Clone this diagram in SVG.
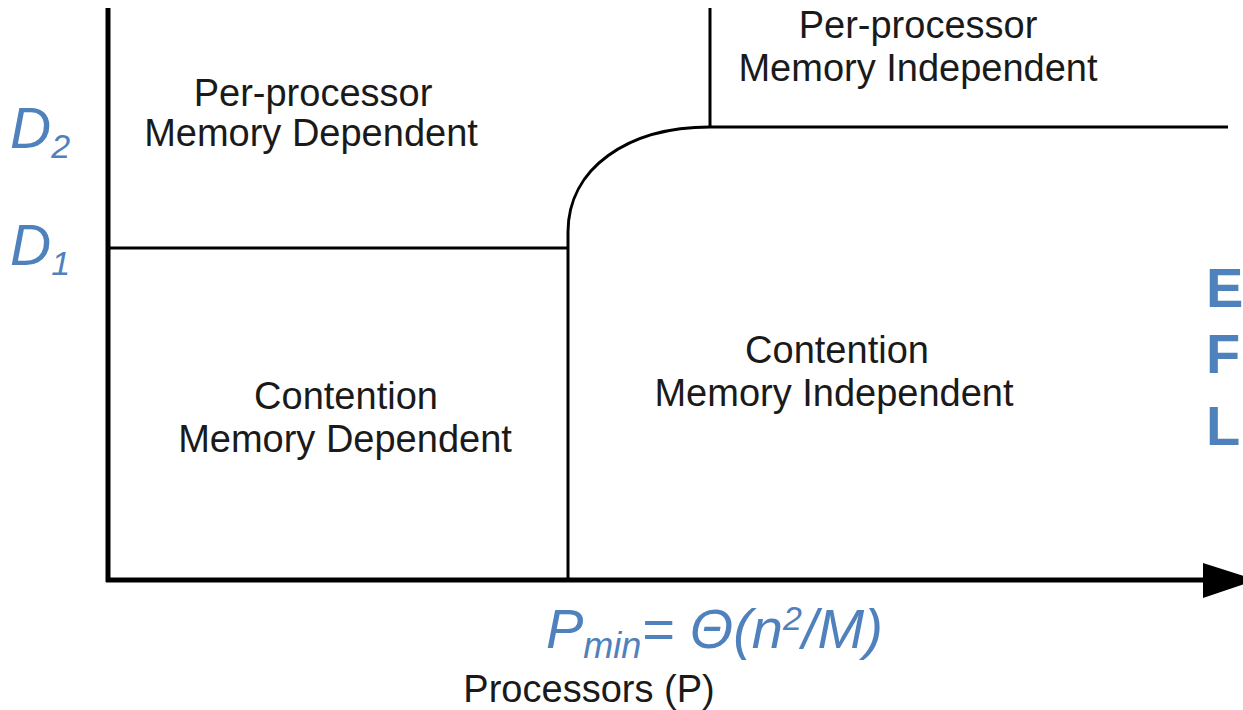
<svg xmlns="http://www.w3.org/2000/svg" width="1243" height="710" viewBox="0 0 1243 710">
<style>
.lbl{font-family:"Liberation Sans",Arial,sans-serif;font-size:38px;fill:#1a1a1a;text-anchor:middle}
.blue{font-family:"Liberation Sans",Arial,sans-serif;fill:#4f81bd;font-style:italic}
.side{font-family:"Liberation Sans",Arial,sans-serif;fill:#4f81bd;font-weight:bold;font-size:56px}
.thin{stroke:#000;stroke-width:3;fill:none}
.axis{stroke:#000;stroke-width:5;fill:none}
</style>
<rect width="1243" height="710" fill="#fff"/>
<g id="connectors">
<line class="axis" x1="108" y1="8" x2="108" y2="582"/>
<line class="axis" x1="106" y1="580" x2="1210" y2="580"/>
<polygon points="1203,563 1256,580 1203,598" fill="#000"/>
<line class="thin" x1="108" y1="248" x2="568" y2="248"/>
<line class="thin" x1="568" y1="248" x2="568" y2="580"/>
<path class="thin" d="M568,248 L568,232 C568,168 628,127 710,127 L1228,127"/>
<line class="thin" x1="710" y1="8" x2="710" y2="127"/>
</g>
<g id="n-ppmd">
<text class="lbl" x="313" y="106">Per-processor</text>
<text class="lbl" x="311" y="146">Memory Dependent</text>
</g>
<g id="n-ppmi">
<text class="lbl" x="918" y="38">Per-processor</text>
<text class="lbl" x="918" y="81">Memory Independent</text>
</g>
<g id="n-cmd">
<text class="lbl" x="346" y="409">Contention</text>
<text class="lbl" x="345" y="452">Memory Dependent</text>
</g>
<g id="n-cmi">
<text class="lbl" x="837" y="363">Contention</text>
<text class="lbl" x="834" y="406">Memory Independent</text>
</g>
<g id="n-xlabel">
<text class="lbl" x="589" y="702">Processors (P)</text>
</g>
<g id="n-d2">
<text class="blue" x="10" y="148" font-size="57">D<tspan font-size="34" dy="10">2</tspan></text>
</g>
<g id="n-d1">
<text class="blue" x="10" y="265" font-size="57">D<tspan font-size="34" dy="10">1</tspan></text>
</g>
<g id="n-pmin">
<text class="blue" x="546" y="648" font-size="56">P<tspan font-size="36" dy="10">min</tspan><tspan dy="-10">= Θ(n</tspan><tspan font-size="34" dy="-18">2</tspan><tspan dy="18">/M)</tspan></text>
</g>
<g id="n-side">
<text class="side" x="1206" y="307">E</text>
<text class="side" x="1206" y="373">F</text>
<text class="side" x="1206" y="445">L</text>
</g>
</svg>
